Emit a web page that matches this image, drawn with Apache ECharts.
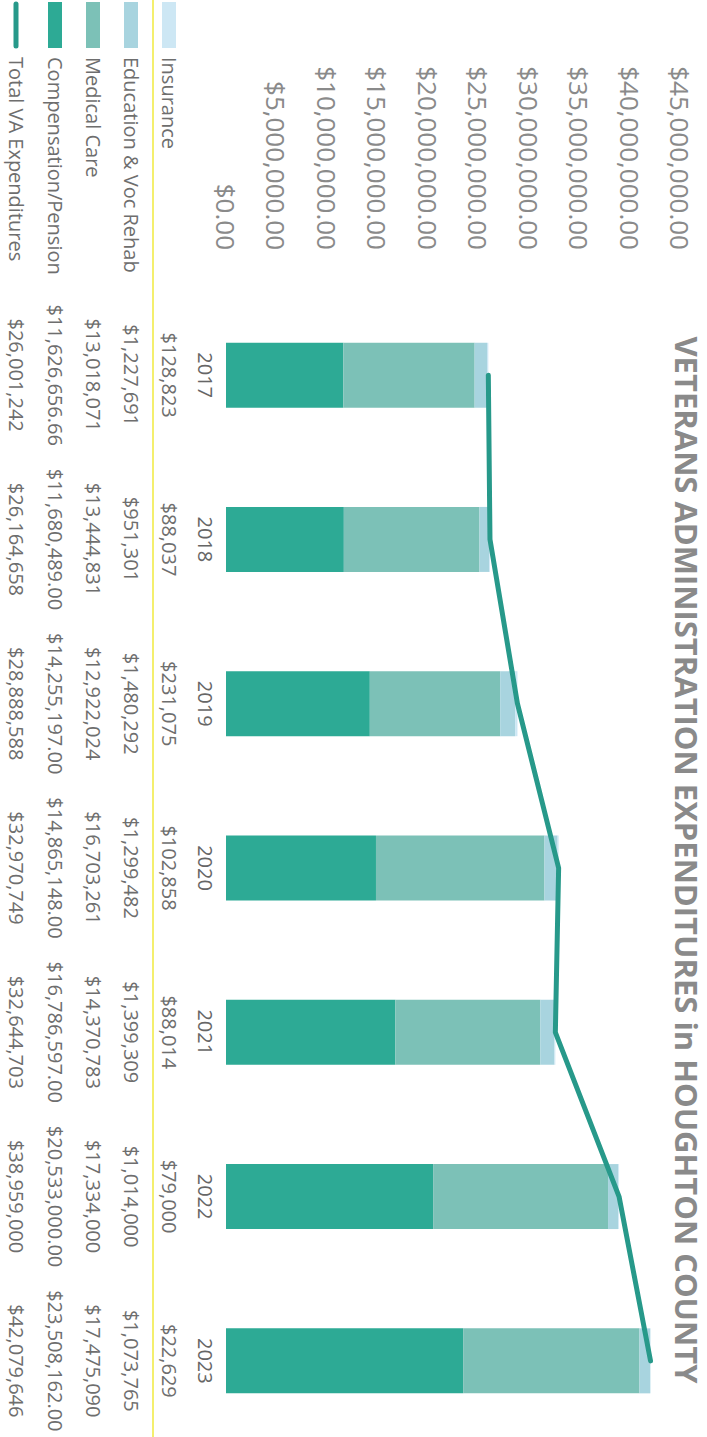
<!DOCTYPE html>
<html>
<head>
<meta charset="utf-8">
<script src="https://cdn.jsdelivr.net/npm/echarts@6/dist/echarts.min.js"></script>
<style>
  html, body { margin: 0; padding: 0; width: 707px; height: 1437px; overflow: hidden; background: #fff; }
  /* the scan is a landscape chart turned a quarter turn clockwise */
  #main { position: absolute; left: 0; top: 0; width: 1437px; height: 707px;
          transform-origin: 0 0; transform: translate(707px, 0) rotate(90deg); }
</style>
</head>
<body>
<div id="main"></div>
<script>
var years = ['2017', '2018', '2019', '2020', '2021', '2022', '2023'];
var insurance = [128823, 88037, 231075, 102858, 88014, 79000, 22629];
var education = [1227691, 951301, 1480292, 1299482, 1399309, 1014000, 1073765];
var medical = [13018071, 13444831, 12922024, 16703261, 14370783, 17334000, 17475090];
var compensation = [11626656.66, 11680489.00, 14255197.00, 14865148.00, 16786597.00, 20533000.00, 23508162.00];
var total = [26001242, 26164658, 28888588, 32970749, 32644703, 38959000, 42079646];
var axisMin = 0, axisMax = 45000000, axisStep = 5000000;

var FONT = '"Open Sans", "Noto Sans", sans-serif';
var colInsurance = '#cde7f4', colEducation = '#a8d4df', colMedical = '#7cc1b7',
    colComp = '#2daa95', colTotal = '#27998a';

function money(v, dec) {
  return '$' + v.toLocaleString('en-US', { minimumFractionDigits: dec, maximumFractionDigits: dec });
}

var chart = echarts.init(document.getElementById('main'), null, { renderer: 'svg' });

chart.setOption({
  animation: false,
  backgroundColor: '#fff',
  textStyle: { fontFamily: FONT },
  grid: { left: 293, top: 27, width: 1150, height: 454, outerBoundsMode: 'none' },
  xAxis: {
    type: 'category',
    data: years,
    axisLine: { show: false },
    axisTick: { show: false },
    axisLabel: { margin: 11, fontSize: 20, color: '#666', fontFamily: FONT }
  },
  yAxis: {
    type: 'value',
    min: axisMin, max: axisMax, interval: axisStep,
    splitLine: { show: false },
    axisLine: { show: false },
    axisTick: { show: false },
    axisLabel: {
      margin: 43, fontSize: 26, color: '#8a8a8a', fontFamily: FONT,
      formatter: function (v) { return money(v, 2); }
    }
  },
  series: [
    { name: 'Compensation/Pension', type: 'bar', stack: 'va', barWidth: 65, data: compensation, itemStyle: { color: colComp } },
    { name: 'Medical Care', type: 'bar', stack: 'va', barWidth: 65, data: medical, itemStyle: { color: colMedical } },
    { name: 'Education & Voc Rehab', type: 'bar', stack: 'va', barWidth: 65, data: education, itemStyle: { color: colEducation } },
    { name: 'Insurance', type: 'bar', stack: 'va', barWidth: 65, data: insurance, itemStyle: { color: colInsurance } },
    { name: 'Total VA Expenditures', type: 'line', data: total, symbol: 'none', z: 5,
      lineStyle: { color: colTotal, width: 5, cap: 'round', join: 'round' } }
  ]
});

// data table under the plot, with legend keys
var rows = [
  { name: 'Insurance', data: insurance, dec: 0, color: colInsurance, y: 538 },
  { name: 'Education & Voc Rehab', data: education, dec: 0, color: colEducation, y: 576 },
  { name: 'Medical Care', data: medical, dec: 0, color: colMedical, y: 614 },
  { name: 'Compensation/Pension', data: compensation, dec: 2, color: colComp, y: 652 },
  { name: 'Total VA Expenditures', data: total, dec: 0, color: colTotal, y: 691, line: true }
];

var els = [];
els.push({
  type: 'text', x: 860, y: 20,
  style: { text: 'VETERANS ADMINISTRATION EXPENDITURES in HOUGHTON COUNTY', fill: '#8a8a8a',
           font: 'bold 31px ' + FONT, textAlign: 'center', textVerticalAlign: 'middle' }
});
els.push({ type: 'line', shape: { x1: 0, y1: 554, x2: 1437, y2: 554 }, style: { stroke: '#f4ef6e', lineWidth: 2 } });

rows.forEach(function (r) {
  if (r.line) {
    els.push({ type: 'line', shape: { x1: 4, y1: r.y, x2: 46, y2: r.y },
               style: { stroke: r.color, lineWidth: 5, lineCap: 'round' } });
  } else {
    els.push({ type: 'rect', shape: { x: 2, y: r.y - 7, width: 46, height: 14 }, style: { fill: r.color } });
  }
  els.push({ type: 'text', x: 57, y: r.y,
             style: { text: r.name, fill: '#6e6e6e', font: '20px ' + FONT, textVerticalAlign: 'middle' } });
  r.data.forEach(function (v, i) {
    var cx = chart.convertToPixel({ xAxisIndex: 0 }, years[i]);
    els.push({ type: 'text', x: cx, y: r.y,
               style: { text: money(v, r.dec), fill: '#6e6e6e', font: '20px ' + FONT,
                        textAlign: 'center', textVerticalAlign: 'middle' } });
  });
});

chart.setOption({ graphic: els });
</script>
</body>
</html>
